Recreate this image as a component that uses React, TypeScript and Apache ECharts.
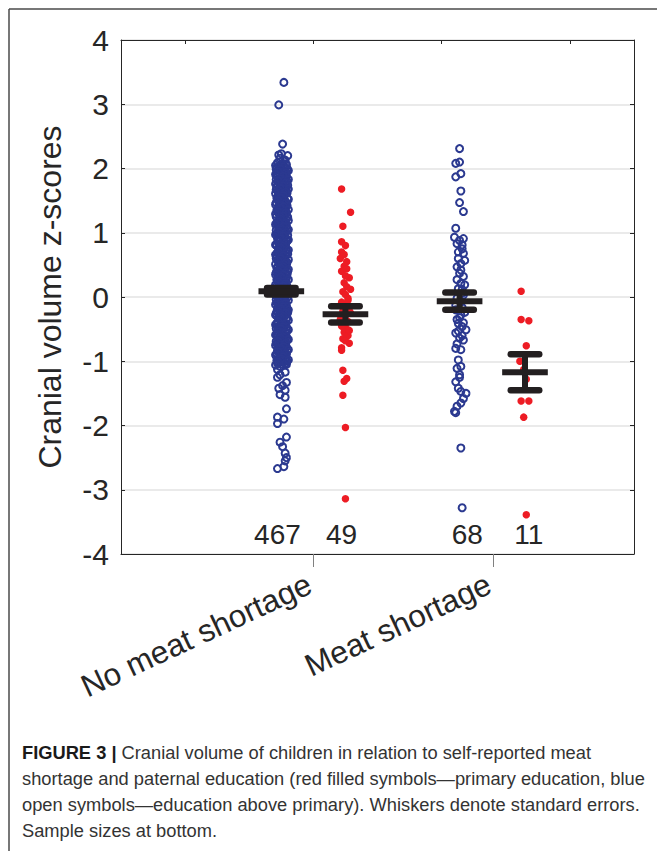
import React, { useEffect, useRef } from "react";
import * as echarts from "echarts";

const categories = ["No meat shortage", "Meat shortage"];
const categoryTickX = [2.0, 3.4];
const categoryLabelX = [1.97, 3.37];
const groupTicks = [1, 2, 3, 4];
const sampleSizes = ["467", "49", "68", "11"];
const sampleLabelX = [1.72, 2.22, 3.2, 3.68];
const sampleLabelY = -3.7;

const groupX = [1.75, 2.25, 3.14, 3.65];
const groupMean = [0.09, -0.27, -0.065, -1.17];
const groupSE = [0.05, 0.125, 0.135, 0.28];

// No meat shortage, education above primary (blue open)
const blueNoShortage: number[][] = [
  [1.77,3.34],[1.73,2.99],[1.76,2.38],[1.73,2.21],[1.80,2.20],[1.75,2.23],[1.74,2.16],[1.78,2.13],
  [1.72,2.09],[1.76,2.08],[1.79,2.06],[1.74,2.03],[1.78,2.01],[1.71,1.99],
  [1.75,1.97],[1.80,1.96],[1.73,1.94],[1.77,1.92],[1.72,1.89],[1.79,1.88],
  [1.75,1.86],[1.71,1.83],[1.78,1.82],[1.74,1.80],[1.76,1.77],[1.72,1.75],
  [1.80,1.74],[1.74,1.72],[1.77,1.69],[1.71,1.67],[1.79,1.66],[1.75,1.64],
  [1.73,1.61],[1.78,1.60],[1.76,1.57],[1.72,1.55],[1.80,1.53],[1.74,1.51],
  [1.77,1.49],[1.71,1.47],[1.79,1.45],[1.75,1.43],[1.73,1.40],[1.78,1.39],
  [1.76,1.36],[1.72,1.34],[1.79,1.32],[1.74,1.30],[1.77,1.27],[1.71,1.25],
  [1.80,1.24],[1.75,1.22],[1.73,1.19],[1.78,1.17],[1.76,1.15],[1.72,1.12],
  [1.79,1.11],[1.74,1.09],[1.77,1.06],[1.71,1.04],[1.78,1.02],[1.75,1.00],
  [1.73,0.97],[1.80,0.96],[1.76,0.94],[1.72,0.91],[1.79,0.89],[1.74,0.87],
  [1.77,0.85],[1.71,0.82],[1.78,0.80],[1.75,0.78],[1.73,0.75],[1.79,0.74],
  [1.76,0.71],[1.72,0.69],[1.80,0.67],[1.74,0.65],[1.77,0.62],[1.71,0.60],
  [1.78,0.58],[1.75,0.56],[1.73,0.53],[1.79,0.51],[1.76,0.49],[1.72,0.47],
  [1.77,0.44],[1.74,0.42],[1.80,0.40],[1.71,0.38],[1.78,0.36],[1.75,0.33],
  [1.73,0.31],[1.79,0.29],[1.76,0.27],[1.72,0.25],[1.77,0.22],[1.74,0.20],
  [1.79,0.18],[1.71,0.16],[1.75,0.14],[1.78,0.11],[1.73,0.09],[1.76,0.07],
  [1.72,0.05],[1.79,0.03],[1.74,0.01],[1.77,-0.02],[1.71,-0.04],[1.78,-0.06],
  [1.75,-0.08],[1.73,-0.11],[1.79,-0.13],[1.76,-0.15],[1.72,-0.17],[1.77,-0.20],
  [1.74,-0.22],[1.80,-0.24],[1.71,-0.26],[1.78,-0.29],[1.75,-0.31],[1.73,-0.33],
  [1.79,-0.35],[1.76,-0.38],[1.72,-0.40],[1.77,-0.42],[1.74,-0.44],[1.79,-0.47],
  [1.71,-0.49],[1.75,-0.51],[1.78,-0.53],[1.73,-0.56],[1.76,-0.58],[1.72,-0.60],
  [1.79,-0.62],[1.74,-0.65],[1.77,-0.67],[1.71,-0.69],[1.78,-0.71],[1.75,-0.74],
  [1.73,-0.76],[1.79,-0.78],[1.76,-0.80],[1.72,-0.83],[1.77,-0.85],[1.74,-0.87],
  [1.79,-0.89],[1.71,-0.92],[1.75,-0.94],[1.78,-0.96],[1.73,-0.98],[1.76,-1.01],
  [1.72,-1.03],[1.79,-1.05],[1.74,-1.08],
  [1.745,2.05],[1.725,1.98],[1.765,1.91],[1.785,1.85],[1.735,1.79],[1.755,1.72],
  [1.785,1.70],[1.745,1.63],[1.725,1.58],[1.765,1.52],[1.785,1.48],[1.735,1.42],
  [1.755,1.37],[1.725,1.31],[1.785,1.29],[1.745,1.23],[1.765,1.18],[1.735,1.13],
  [1.785,1.08],[1.755,1.03],[1.725,0.99],[1.765,0.93],[1.745,0.88],[1.785,0.83],
  [1.735,0.79],[1.755,0.73],[1.725,0.68],[1.785,0.64],[1.765,0.59],[1.745,0.55],
  [1.735,0.50],[1.785,0.46],[1.755,0.41],[1.725,0.37],[1.765,0.32],[1.745,0.28],
  [1.785,0.24],[1.735,0.19],[1.755,0.15],[1.725,0.10],[1.765,0.06],[1.785,0.02],
  [1.745,-0.03],[1.735,-0.07],[1.765,-0.12],[1.725,-0.16],[1.785,-0.21],[1.755,-0.25],
  [1.745,-0.30],[1.735,-0.34],[1.765,-0.39],[1.785,-0.43],[1.725,-0.48],[1.755,-0.52],
  [1.745,-0.57],[1.765,-0.61],[1.735,-0.66],[1.785,-0.70],[1.755,-0.75],[1.725,-0.79],
  [1.745,-0.84],[1.765,-0.88],[1.735,-0.93],[1.785,-0.97],[1.755,-1.00],
  [1.715,2.02],[1.795,2.00],[1.755,1.95],[1.715,1.90],[1.775,1.87],[1.735,1.84],
  [1.795,1.80],[1.755,1.76],[1.715,1.71],[1.775,1.68],[1.735,1.65],[1.795,1.62],
  [1.755,1.59],[1.715,1.54],[1.775,1.51],[1.735,1.46],[1.795,1.42],[1.755,1.39],
  [1.715,1.35],[1.775,1.33],[1.735,1.28],[1.795,1.26],[1.755,1.21],[1.715,1.16],
  [1.775,1.14],[1.735,1.10],[1.795,1.06],[1.755,1.05],[1.715,0.98],[1.775,0.95],
  [1.735,0.92],[1.795,0.87],[1.755,0.84],[1.715,0.80],[1.775,0.77],[1.735,0.72],
  [1.795,0.70],[1.755,0.66],[1.715,0.63],[1.775,0.60],[1.735,0.57],[1.795,0.54],
  [1.755,0.48],[1.715,0.45],[1.775,0.42],[1.735,0.39],[1.795,0.35],[1.755,0.30],
  [1.715,0.27],[1.775,0.25],[1.735,0.22],[1.795,0.16],[1.755,0.12],[1.715,0.08],
  [1.775,0.05],[1.735,0.02],[1.795,-0.01],[1.755,-0.05],[1.715,-0.09],[1.775,-0.10],
  [1.735,-0.14],[1.795,-0.18],[1.755,-0.21],[1.715,-0.23],[1.775,-0.27],[1.735,-0.29],
  [1.795,-0.32],[1.755,-0.36],[1.715,-0.41],[1.775,-0.45],[1.735,-0.47],[1.795,-0.50],
  [1.755,-0.55],[1.715,-0.58],[1.775,-0.63],[1.735,-0.62],[1.795,-0.67],[1.755,-0.70],
  [1.715,-0.73],[1.775,-0.78],[1.735,-0.81],[1.795,-0.84],[1.755,-0.86],[1.715,-0.88],
  [1.775,-0.92],[1.735,-0.96],[1.795,-1.00],[1.755,-1.04],[1.715,-0.99],
  [1.785,2.07],[1.705,2.05],[1.765,2.03],[1.745,1.99],[1.805,1.97],[1.725,1.95],
  [1.785,1.93],[1.705,1.91],[1.765,1.88],[1.745,1.84],[1.805,1.83],[1.725,1.81],
  [1.785,1.78],[1.705,1.76],[1.765,1.73],[1.745,1.69],[1.805,1.68],[1.725,1.66],
  [1.785,1.63],[1.705,1.61],[1.765,1.58],[1.745,1.54],[1.805,1.52],[1.725,1.50],
  [1.785,1.46],[1.705,1.44],[1.765,1.41],[1.745,1.38],[1.805,1.36],[1.725,1.33],
  [1.785,1.31],[1.705,1.29],[1.765,1.26],[1.745,1.21],[1.805,1.19],[1.725,1.17],
  [1.785,1.15],[1.705,1.13],[1.765,1.10],[1.745,1.07],[1.805,1.05],[1.725,1.02],
  [1.785,1.00],[1.705,0.97],[1.765,0.95],[1.745,0.91],[1.805,0.89],[1.725,0.86],
  [1.785,0.84],[1.705,0.81],[1.765,0.79],[1.745,0.76],[1.805,0.73],[1.725,0.71],
  [1.785,0.68],[1.705,0.66],[1.765,0.64],[1.745,0.60],[1.805,0.58],[1.725,0.56],
  [1.785,0.53],[1.705,0.51],[1.765,0.47],[1.745,0.45],[1.805,0.43],[1.725,0.40],
  [1.785,0.38],[1.705,0.35],[1.765,0.34],[1.745,0.31],[1.805,0.27],[1.725,0.24],
  [1.785,0.21],[1.705,0.19],[1.765,0.17],[1.745,0.13],[1.805,0.11],[1.725,0.08],
  [1.785,0.06],[1.705,0.03],[1.765,0.00],[1.745,-0.02],[1.805,-0.05],[1.725,-0.07],
  [1.785,-0.10],[1.705,-0.12],[1.765,-0.15],[1.745,-0.18],[1.805,-0.20],[1.725,-0.23],
  [1.785,-0.25],[1.705,-0.28],[1.765,-0.30],[1.745,-0.33],[1.805,-0.36],[1.725,-0.38],
  [1.785,-0.41],[1.705,-0.43],[1.765,-0.46],[1.745,-0.49],[1.805,-0.51],[1.725,-0.54],
  [1.785,-0.56],[1.705,-0.59],[1.765,-0.62],[1.745,-0.64],[1.805,-0.66],[1.725,-0.69],
  [1.785,-0.72],[1.705,-0.75],[1.765,-0.77],[1.745,-0.80],[1.805,-0.82],[1.725,-0.85],
  [1.785,-0.88],[1.705,-0.90],[1.765,-0.93],[1.745,-0.96],[1.805,-0.98],[1.725,-1.01],
  [1.785,-1.03],[1.705,-1.06],
  [1.72,-1.13],[1.78,-1.17],[1.74,-1.21],[1.72,-1.25],[1.79,-1.33],[1.76,-1.38],
  [1.73,-1.42],[1.78,-1.45],[1.74,-1.52],[1.78,-1.56],[1.79,-1.74],[1.72,-1.87],
  [1.77,-1.90],[1.72,-1.97],[1.79,-2.18],[1.74,-2.26],[1.76,-2.33],[1.78,-2.43],
  [1.79,-2.50],[1.78,-2.55],[1.72,-2.67],[1.77,-2.64]
];

// No meat shortage, primary education (red filled)
const redNoShortage: number[][] = [
  [2.22,1.68],[2.29,1.32],[2.23,1.10],[2.22,0.86],[2.25,0.80],[2.22,0.70],
  [2.26,0.55],[2.24,0.48],[2.22,0.40],[2.28,0.30],[2.24,0.22],[2.26,0.16],
  [2.23,0.08],[2.25,0.04],[2.27,-0.02],[2.22,-0.08],[2.25,-0.12],[2.28,-0.18],
  [2.23,-0.22],[2.26,-0.27],[2.24,-0.31],[2.21,-0.35],[2.27,-0.38],[2.25,-0.42],
  [2.23,-0.46],[2.26,-0.50],[2.24,-0.55],[2.27,-0.60],[2.23,-0.65],[2.28,-0.72],
  [2.22,-0.79],[2.22,-0.83],[2.23,-1.14],[2.26,-1.27],[2.24,-1.31],[2.23,-1.53],
  [2.25,-2.03],[2.25,-3.14],[2.25,0.33],[2.29,0.12],[2.21,0.60],[2.27,-0.05],
  [2.24,-0.15],[2.29,-0.25],[2.22,-0.45],[2.25,-0.68],[2.28,-0.52],[2.26,0.44],
  [2.24,0.66]
];

// Meat shortage, education above primary (blue open)
const blueShortage: number[][] = [
  [3.14,2.31],[3.14,2.10],[3.11,2.08],[3.15,1.92],[3.11,1.87],[3.15,1.65],
  [3.14,1.47],[3.17,1.33],[3.11,1.07],[3.10,0.93],[3.17,0.91],[3.12,0.83],
  [3.16,0.81],[3.13,0.70],[3.17,0.68],[3.15,0.52],[3.12,0.47],[3.14,0.37],
  [3.17,0.32],[3.15,0.21],[3.18,0.19],[3.16,0.06],[3.13,0.13],[3.17,0.03],
  [3.12,-0.02],[3.15,-0.08],[3.11,-0.13],[3.16,-0.16],[3.11,-0.20],[3.15,-0.28],
  [3.18,-0.24],[3.12,-0.35],[3.13,-0.41],[3.16,-0.46],[3.11,-0.56],[3.19,-0.51],
  [3.14,-0.64],[3.17,-0.67],[3.11,-0.80],[3.15,-0.82],[3.13,-0.98],[3.15,-1.08],
  [3.12,-1.11],[3.14,-1.21],[3.11,-1.32],[3.13,-1.42],[3.19,-1.50],[3.15,-1.47],
  [3.12,-1.70],[3.15,-1.65],[3.10,-1.78],[3.11,-1.80],[3.15,-2.35],[3.16,-3.28],
  [3.14,0.88],[3.16,0.75],[3.13,0.60],[3.18,0.57],[3.15,0.42],[3.12,0.27],
  [3.16,0.12],[3.14,-0.32],[3.17,-0.40],[3.13,-0.53],[3.16,-0.60],[3.12,-0.73],
  [3.17,-1.58],[3.14,-1.25]
];

// Meat shortage, primary education (red filled)
const redShortage: number[][] = [
  [3.62,0.09],[3.62,-0.35],[3.68,-0.37],[3.66,-0.76],[3.61,-1.00],[3.64,-1.13],
  [3.66,-1.28],[3.62,-1.62],[3.68,-1.62],[3.64,-1.87],[3.66,-3.39]
];

const BLUE = "#2B3990";
const RED = "#ED1C24";
const TEXT = "#262626";
const BAR = "#231F20";
const FONT = "'Liberation Sans', Arial, Helvetica, sans-serif";

const captionLines = [
  "{b|FIGURE 3 |} Cranial volume of children in relation to self-reported meat",
  "shortage and paternal education (red filled symbols\u2014primary education, blue",
  "open symbols\u2014education above primary). Whiskers denote standard errors.",
  "Sample sizes at bottom."
];
const captionY = [752, 778, 804, 830];

export default function App() {
  const ref = useRef<HTMLDivElement>(null);
  useEffect(() => {
    if (!ref.current) return;
    const chart = echarts.init(ref.current, undefined, { renderer: "svg" });
    const openCircle = {
      type: "scatter",
      symbol: "circle",
      symbolSize: 7,
      silent: true,
      itemStyle: { color: "rgba(0,0,0,0)", borderColor: BLUE, borderWidth: 2, opacity: 1 },
      z: 2,
    };
    const filledDot = {
      type: "scatter",
      symbol: "circle",
      symbolSize: 7.5,
      silent: true,
      itemStyle: { color: RED, borderWidth: 0, opacity: 1 },
      z: 2,
    };
    const option: any = {
      animation: false,
      backgroundColor: "#ffffff",
      textStyle: { fontFamily: FONT },
      grid: { left: 121, top: 40, right: 23, bottom: 297, containLabel: false },
      xAxis: [
        {
          type: "value",
          min: 0.5,
          max: 4.5,
          position: "bottom",
          axisLine: { show: true, onZero: false, lineStyle: { color: TEXT, width: 1 } },
          axisTick: { show: true, customValues: categoryTickX, inside: false, length: 13, lineStyle: { color: "#808080", width: 1 } },
          axisLabel: {
            show: true,
            customValues: categoryLabelX,
            formatter: (v: number) => {
              let best = 0;
              categoryLabelX.forEach((c, i) => { if (Math.abs(c - v) < Math.abs(categoryLabelX[best] - v)) best = i; });
              return categories[best];
            },
            rotate: 25,
            fontSize: 31.5,
            margin: 28,
            color: TEXT,
            fontFamily: FONT,
          },
          splitLine: { show: false },
        },
        {
          type: "value",
          min: 0.5,
          max: 4.5,
          position: "top",
          axisLine: { show: true, onZero: false, lineStyle: { color: TEXT, width: 1 } },
          axisTick: { show: true, customValues: groupTicks, inside: true, length: 4, lineStyle: { color: TEXT } },
          axisLabel: { show: false },
          splitLine: { show: false },
        },
      ],
      yAxis: [
        {
          type: "value",
          min: -4,
          max: 4,
          interval: 1,
          position: "left",
          name: "Cranial volume z-scores",
          nameLocation: "middle",
          nameGap: 55,
          nameTextStyle: { fontSize: 32, color: TEXT, fontFamily: FONT },
          axisLine: { show: true, onZero: false, lineStyle: { color: TEXT, width: 1 } },
          axisTick: { show: true, inside: true, length: 4, lineStyle: { color: TEXT } },
          axisLabel: { fontSize: 30, color: TEXT, margin: 12, fontFamily: FONT },
          splitLine: { show: true, lineStyle: { color: "#e3e3e3", width: 1.5 } },
        },
        {
          type: "value",
          min: -4,
          max: 4,
          interval: 1,
          position: "right",
          axisLine: { show: true, onZero: false, lineStyle: { color: TEXT, width: 1 } },
          axisTick: { show: true, inside: true, length: 4, lineStyle: { color: TEXT } },
          axisLabel: { show: false },
          splitLine: { show: false },
        },
      ],
      series: [
        { ...openCircle, name: "No shortage, above primary", data: blueNoShortage },
        { ...filledDot, name: "No shortage, primary", data: redNoShortage },
        { ...openCircle, name: "Shortage, above primary", data: blueShortage },
        { ...filledDot, name: "Shortage, primary", data: redShortage },
        {
          type: "custom",
          name: "Mean ± SE",
          silent: true,
          z: 5,
          data: groupX.map((x, i) => [x, groupMean[i], groupSE[i]]),
          renderItem: (_params: any, api: any) => {
            const x = api.value(0);
            const m = api.value(1);
            const se = api.value(2);
            const mL = api.coord([x - 0.178, m]);
            const mR = api.coord([x + 0.178, m]);
            const tL = api.coord([x - 0.111, m + se]);
            const tR = api.coord([x + 0.111, m + se]);
            const bL = api.coord([x - 0.111, m - se]);
            const bR = api.coord([x + 0.111, m - se]);
            const top = api.coord([x, m + se]);
            const bot = api.coord([x, m - se]);
            return {
              type: "group",
              children: [
                { type: "line", shape: { x1: top[0], y1: top[1], x2: bot[0], y2: bot[1] }, style: { stroke: BAR, lineWidth: 6 } },
                { type: "line", shape: { x1: tL[0], y1: tL[1], x2: tR[0], y2: tR[1] }, style: { stroke: BAR, lineWidth: 6.5, lineCap: "round" } },
                { type: "line", shape: { x1: bL[0], y1: bL[1], x2: bR[0], y2: bR[1] }, style: { stroke: BAR, lineWidth: 6.5, lineCap: "round" } },
                { type: "line", shape: { x1: mL[0], y1: mL[1], x2: mR[0], y2: mR[1] }, style: { stroke: BAR, lineWidth: 6, lineCap: "butt" } },
              ],
            };
          },
        },
        {
          type: "scatter",
          name: "Sample sizes",
          silent: true,
          symbolSize: 1,
          itemStyle: { color: "rgba(0,0,0,0)", opacity: 1 },
          z: 6,
          data: sampleLabelX.map((x, i) => [x, sampleLabelY, sampleSizes[i]]),
          label: {
            show: true,
            position: "inside",
            formatter: (p: any) => p.value[2],
            fontSize: 28,
            color: TEXT,
            opacity: 1,
            fontFamily: FONT,
          },
        },
      ],
      graphic: [
        { type: "line", silent: true, shape: { x1: 9, y1: 9, x2: 657, y2: 9 }, style: { stroke: "#4a4a4a", lineWidth: 1.5 } },
        { type: "line", silent: true, shape: { x1: 9, y1: 9, x2: 9, y2: 851 }, style: { stroke: "#4a4a4a", lineWidth: 1.5 } },
        ...captionLines.map((t, i) => ({
          type: "text",
          silent: true,
          x: 22,
          y: captionY[i],
          style: {
            text: t,
            fontSize: 18.3,
            fontFamily: FONT,
            fill: "#333333",
            align: "left",
            verticalAlign: "middle",
            rich: {
              b: { fontSize: 18.3, fontWeight: "bold", fontFamily: FONT, fill: "#1a1a1a", color: "#1a1a1a" },
            },
          },
        })),
      ],
    };
    chart.setOption(option);
    return () => chart.dispose();
  }, []);
  return <div ref={ref} style={{ position: "fixed", left: 0, top: 0, width: 657, height: 851 }} />;
}
